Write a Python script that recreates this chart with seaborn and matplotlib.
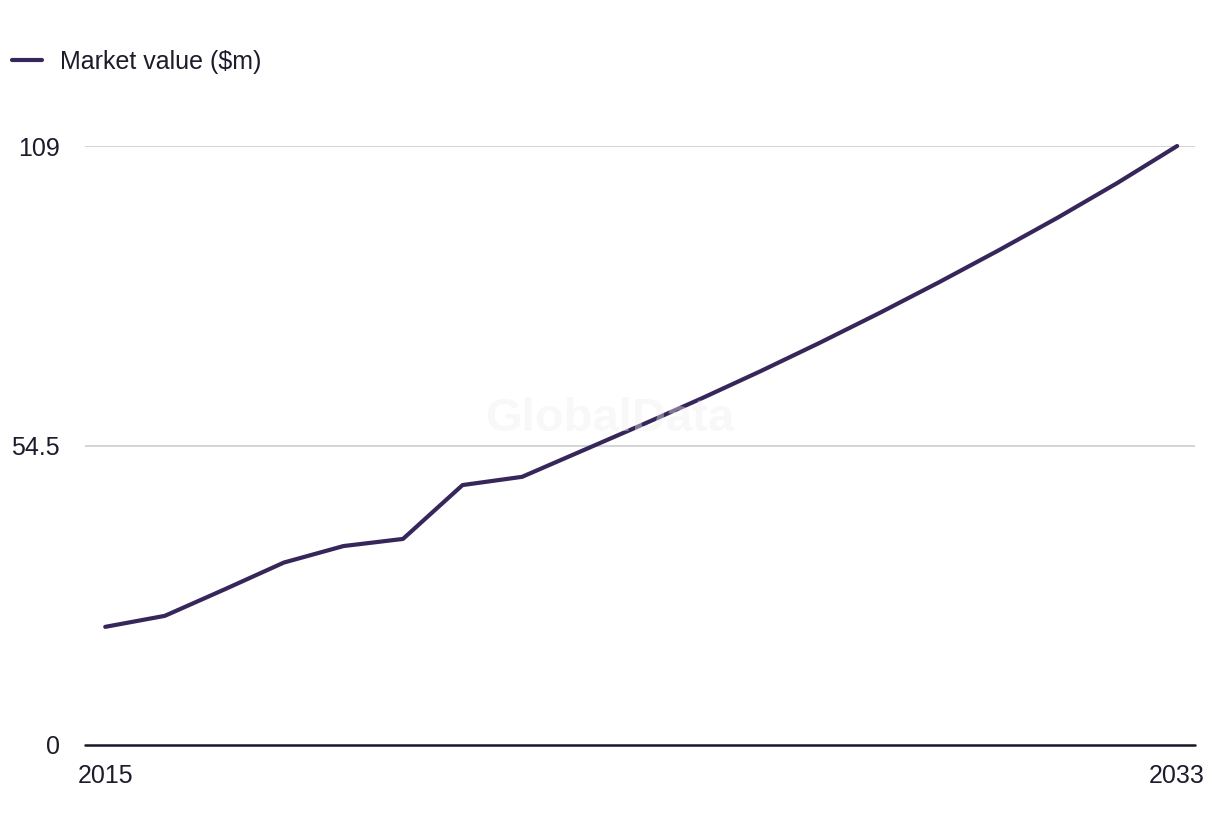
import pandas as pd
import seaborn as sns
import matplotlib.pyplot as plt

# Market value ($m)
years = list(range(2015, 2034))
values = [21.5, 23.5, 28.3, 33.2, 36.2, 37.5, 47.3, 48.8, 53.5, 58.2,
          63.0, 68.0, 73.2, 78.6, 84.2, 90.0, 96.0, 102.3, 109.0]
y_ticks = [0, 54.5, 109]
y_tick_labels = ['0', '54.5', '109']
x_ticks = [2015, 2033]
series_name = 'Market value ($m)'

line_color = '#37265a'
text_color = '#1c1c2c'

sns.set_theme(style='white')
plt.rcParams['font.family'] = ['Liberation Sans', 'DejaVu Sans']

df = pd.DataFrame({'year': years, 'value': values})

fig = plt.figure(figsize=(12.2, 8.36), dpi=100)
ax = fig.add_axes([85 / 1220, 1 - 745 / 836, 1110 / 1220, 599 / 836])

sns.lineplot(data=df, x='year', y='value', color=line_color, linewidth=3,
             label=series_name, ax=ax, clip_on=False, zorder=3)

ax.set_xlim(2014.66, 2033.3)
ax.set_ylim(0, 109)
ax.set_yticks(y_ticks)
ax.set_yticklabels(y_tick_labels)
ax.set_xticks(x_ticks)
ax.set_xlabel('')
ax.set_ylabel('')

for y in y_ticks[1:]:
    ax.axhline(y, color='#d4d4d8', linewidth=1.4, zorder=1)
ax.axhline(0, color='#16162a', linewidth=1.8, zorder=2, clip_on=False)

for side in ['top', 'right', 'left', 'bottom']:
    ax.spines[side].set_visible(False)

ax.tick_params(axis='both', length=0, labelsize=18, colors=text_color)
ax.tick_params(axis='y', pad=18)
ax.tick_params(axis='x', pad=14)

# faint watermark
ax.text(0.473, 0.545, 'GlobalData', transform=ax.transAxes, fontsize=34,
        fontweight='bold', color='#eeeeee', alpha=0.4, ha='center',
        va='center', zorder=5, family=['Liberation Sans', 'DejaVu Sans'])

ax.get_legend().remove()
handles, labels = ax.get_legend_handles_labels()
fig.legend(handles, labels, loc='center left', bbox_to_anchor=(0.002, 1 - 62 / 836),
           frameon=False, fontsize=18, handlelength=1.2, handletextpad=0.72,
           labelcolor=text_color, borderaxespad=0.0)

plt.savefig('out.png', dpi=100)
plt.close()
